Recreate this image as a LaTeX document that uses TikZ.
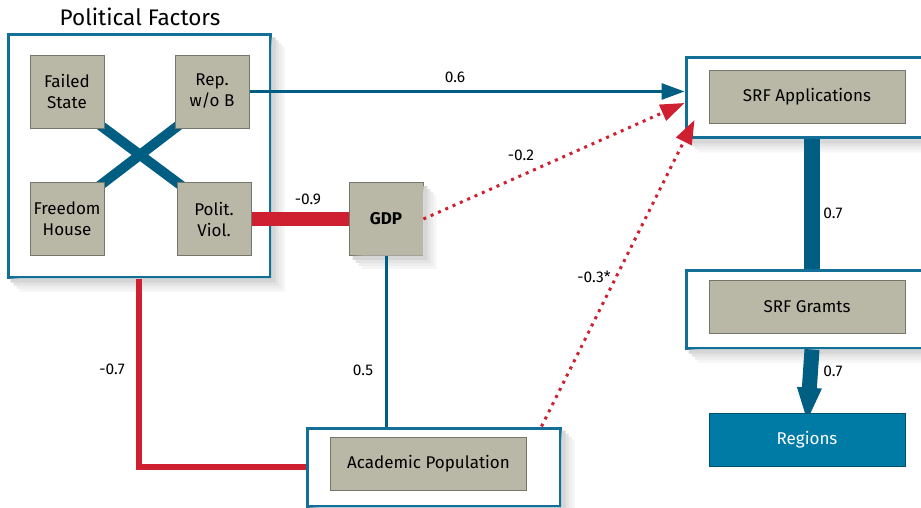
\documentclass[tikz,border=0pt]{standalone}
\usepackage{fontspec}
\setmainfont{Fira Sans}
\usetikzlibrary{arrows.meta}

\definecolor{pathblue}{HTML}{005E82}
\definecolor{panelblue}{HTML}{126F98}
\definecolor{pathred}{HTML}{CF2031}
\definecolor{boxgray}{HTML}{B9B8A7}
\definecolor{boxedge}{HTML}{76766C}
\definecolor{regblue}{HTML}{007BA5}
\definecolor{regedge}{HTML}{00506E}

\pgfdeclarelayer{front}
\pgfsetlayers{main,front}

% soft shadow along the right and lower side of a box
\newcommand\softshadow[1]{%
  \foreach \d/\c in {13/4,10/7,7/11,4/16}
    \fill[black!\c] ([shift={(0,\d)}]#1.north east) -- ([shift={(\d,\d)}]#1.north east)
      -- ([shift={(\d,\d)}]#1.south east) -- ([shift={(\d,\d)}]#1.south west)
      -- ([shift={(\d,0)}]#1.south west) -- (#1.south east) -- cycle;}

\tikzset{
  factor/.style={draw=boxedge, fill=boxgray, line width=0.8pt, inner sep=0pt,
    minimum width=74pt, minimum height=73pt, align=center,
    font=\fontsize{17}{21}\selectfont},
  wide/.style={factor, minimum width=196pt, minimum height=53pt},
  panel/.style={draw=panelblue, fill=white, line width=3pt, inner sep=0pt},
  coef/.style={font=\fontsize{15.5}{17}\selectfont, inner sep=1pt},
  dotted arrow/.style={pathred, line width=3pt, dash pattern=on 3pt off 5pt,
    -{Triangle[length=24pt,width=17pt]}},
}

\begin{document}
\begin{tikzpicture}[x=1pt,y=-1pt]
\useasboundingbox (0,0) rectangle (921,508);

% Outer panels
\node[panel, minimum width=262pt, minimum height=242pt] (polout) at (139,156) {};
\node[panel, minimum width=252pt, minimum height=80pt] (appout) at (812,98) {};
\node[panel, minimum width=252pt, minimum height=78pt] (grantout) at (812,309) {};
\node[panel, minimum width=253pt, minimum height=78pt] (acadout) at (433.5,467) {};

\node[font=\fontsize{22.5}{26}\selectfont] (poltitle) at (140,17) {Political Factors};

\node[factor, font=\fontsize{17}{21}\selectfont\bfseries] (gdp) at (386,219) {GDP};

% Shadows
\softshadow{polout}
\softshadow{appout}
\softshadow{grantout}
\softshadow{acadout}
\softshadow{gdp}

\begin{pgfonlayer}{front}
% Political factors
\node[factor] (failed) at (67,91.5) {Failed\\State};
\node[factor] (rep) at (212,91.5) {Rep.\\w/o B};
\node[factor] (freedom) at (67,219) {Freedom\\House};
\node[factor] (polit) at (214,219) {Polit.\\Viol.};

% Outcomes
\node[wide] (apps) at (807,96.5) {SRF Applications};
\node[wide] (grants) at (807,307) {SRF Gramts};
\node[wide, fill=regblue, draw=regedge, text=white] (regions) at (807,439.5) {Regions};
\node[wide] (acad) at (428.5,464) {Academic Population};
\end{pgfonlayer}

% Paths
\draw[pathblue, line width=10pt, shorten <=-8pt, shorten >=-8pt] (failed.south east) -- (polit.north west);
\draw[pathblue, line width=10pt, shorten <=-8pt, shorten >=-8pt] (rep.south west) -- (freedom.north east);

\draw[pathblue, line width=3pt, -{Triangle[length=23pt,width=16pt]}] (rep.east) -- (rep.east -| appout.west);
\draw[dotted arrow] (gdp.east) -- ([yshift=-5pt]appout.west);
\draw[dotted arrow] ([xshift=-20pt]acadout.north east) -- ([xshift=10pt,yshift=-22pt]appout.west);

\draw[pathred, line width=14pt] (polit.east) -- (gdp.west);
\draw[pathred, line width=6pt] (polout.south) |- (acadout.west);
\draw[pathblue, line width=3pt] (gdp.south) -- (gdp.south |- acadout.north);

\draw[pathblue, line width=16pt] (appout.south) -- (grantout.north);
\draw[pathblue, line width=15pt, -{Triangle[length=35pt,width=22pt]}] (grantout.south) -- ([yshift=-10pt]regions.north);

% Coefficients
\node[coef] (c06) at (455,77) {0.6};
\node[coef] (c02) at (521,155) {-0.2};
\node[coef] (c09) at (308,199) {-0.9};
\node[coef] (c03) at (594,277) {-0.3*};
\node[coef] (c07a) at (833,213) {0.7};
\node[coef] (c07b) at (833,371) {0.7};
\node[coef] (c05) at (363,370) {0.5};
\node[coef] (m07) at (112,369) {-0.7};
\end{tikzpicture}
\end{document}
